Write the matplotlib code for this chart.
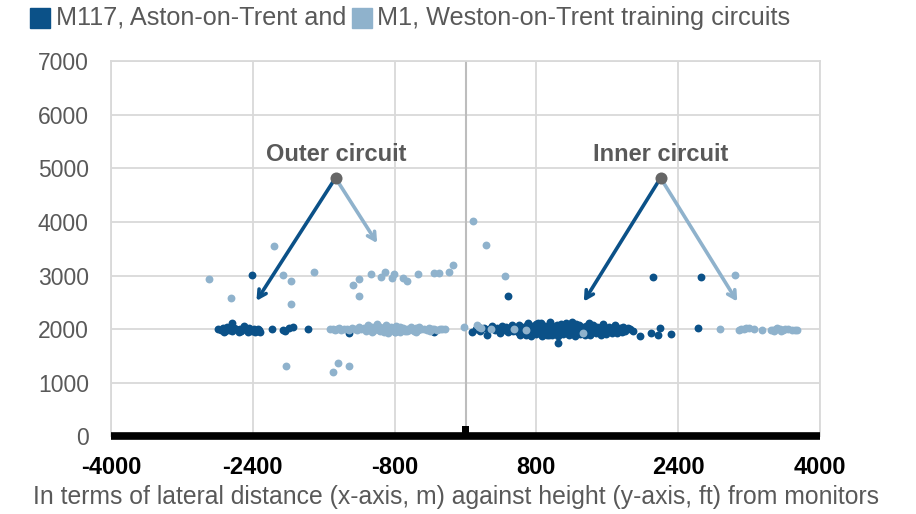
import matplotlib.pyplot as plt
from matplotlib.patches import Rectangle

plt.rcParams['font.family'] = ['Liberation Sans', 'DejaVu Sans']

DARK = '#0b5188'
LIGHT = '#8fb2cc'
GREY = '#595959'

# M117, Aston-on-Trent (lateral distance m, height ft)
m117_x = [-2790, -2760, -2735, -2710, -2690, -2670, -2650, -2630, -2610, -2590,
          -2570, -2550, -2530, -2510, -2490, -2470, -2450, -2430, -2410, -2390,
          -2370, -2350, -2330, -2315, -2630, -2500, -2720, -2560, -2440, -2340,
          -2182, -2062, -2040, -1990, -1945, -1780, -2408, -1317, -358,
          76, 120, 160, 205, 240, 270, 300, 330, 360, 385, 410, 440, 460, 480,
          500, 520, 540, 555, 570, 590, 605, 620, 640, 655, 670, 690, 705, 720,
          735, 750, 765, 780, 795, 810, 825, 840, 855, 870, 885, 900, 915, 930,
          945, 960, 975, 990, 1005, 1020, 1035, 1050, 1065, 1080, 1095, 1110,
          1125, 1140, 1160, 1180, 1200, 1220, 1240, 1260, 1280, 1300, 1320,
          1340, 1360, 1380, 1400, 1420, 1440, 1460, 1480, 1500, 1520, 1540,
          1560, 1580, 1600, 1620, 1640, 1660, 1680, 1700, 1720, 1740, 1760,
          1780, 1800, 1830, 1860, 1890,
          620, 680, 740, 800, 860, 920, 980, 1040, 1100, 1170, 1230, 1290,
          1350, 1410, 1470, 1530, 1590, 1650, 1710, 1770, 700, 820, 950, 1130,
          1250, 1390, 1550, 1690,
          482, 1046, 2114, 2660, 2622, 1967, 2088, 2193, 2170, 2314]
m117_y = [2000, 1980, 2020, 1960, 2050, 1990, 2010, 1970, 2030, 2000,
          1980, 2010, 1960, 2000, 2020, 1980, 1950, 1990, 1960, 2010,
          1940, 1970, 1990, 1950, 2110, 2060, 1950, 1950, 2030, 2000,
          2000, 1990, 1970, 2030, 2050, 2000, 3010, 1930, 1940,
          1940, 2010, 1960, 2030, 1900, 2000, 2060, 1980, 2020, 1930,
          2060, 1990, 2040, 1950, 2010, 2080, 1960, 2030, 2000, 1940,
          2070, 1990, 2050, 1920, 2010, 2080, 1970, 2040, 1910, 2060,
          1990, 2020, 2090, 1950, 2030, 1980, 2110, 1940, 2010, 2060,
          1970, 2020, 1900, 2080, 1990, 2050, 1930, 2020, 2070, 1960,
          2010, 2100, 1950, 2040, 1990, 1920, 2060, 2010, 2130, 1970,
          2030, 1950, 2080, 1990, 2040, 1920, 2060, 2000, 2020, 1960,
          2070, 1990, 2040, 1940, 2020, 2060, 1980, 2030, 1950, 2050,
          2000, 1970, 2040, 2010, 1960, 2030, 1990, 2050, 1970, 2020,
          2000, 1960,
          1890, 1900, 1880, 1910, 1870, 1900, 1890, 1880, 1910, 1900, 1880,
          1910, 1900, 1890, 1920, 1900, 1910, 1920, 1930, 1940, 2110, 2120,
          2130, 2120, 2100, 2110, 2090, 2080,
          2610, 1740, 2980, 2980, 2030, 1875, 1937, 2018, 1894, 1907]

# M1, Weston-on-Trent
m1_x = [-2897, -2641, -2164, -2058, -1964, -1964, -1712, -2020, -1440, -1495,
        -1310, -1268, -1200, -1200, -1064, -959, -903, -835, -809, -703, -658,
        -534, -358, -301, -188, -143,
        -1524, -1500, -1475, -1450, -1425, -1400, -1370, -1340, -1310, -1280,
        -1250, -1225, -1200, -1175, -1150, -1125, -1100, -1080, -1060, -1040,
        -1020, -1000, -980, -960, -940, -920, -900, -880, -860, -840, -820,
        -800, -780, -760, -740, -720, -700, -680, -660, -640, -620, -600,
        -580, -560, -540, -520, -500, -470, -440, -410, -380, -350, -320,
        -290, -260, -235, -1060, -960, -870, -800, -740, -660, -560, -400,
        -20, 130, 150, 175, 290, 545, 677, 1328,
        87, 226, 451, 3036,
        2870, 3085, 3110, 3140, 3170, 3200, 3250, 3349, 3442, 3470, 3500,
        3520, 3550, 3580, 3610, 3640, 3680, 3720, 3744, 3480, 3560]
m1_y = [2930, 2590, 3560, 3010, 2890, 2470, 3070, 1315, 1370, 1200,
        1315, 2830, 2930, 2610, 3030, 2980, 3060, 2960, 3030, 2960, 2890,
        3030, 3040, 3040, 3060, 3190,
        2000, 2010, 1990, 2000, 2020, 1990, 2010, 2000, 1980, 2020,
        2010, 1990, 2040, 2000, 2030, 1970, 2080, 1990, 2050, 1960,
        2030, 2090, 1980, 2040, 2000, 1950, 2070, 2010, 1960, 2050,
        2020, 1940, 2060, 2000, 2040, 1980, 2030, 1960, 2010, 1990,
        2050, 2000, 1970, 2020, 1990, 2040, 2000, 2010, 1980, 2020,
        2000, 2010, 1990, 2000, 2010, 2000, 1950, 1960, 1930, 1950,
        1940, 1960, 1950, 1960,
        2040, 2070, 2050, 2030, 2010, 2010, 1980, 1925,
        4010, 3570, 3000, 3010,
        2000, 1990, 2000, 2010, 2020, 2030, 2000, 1990, 1990, 1980, 2010,
        2020, 2000, 1980, 2010, 2000, 1990, 1990, 1990, 1960, 1970]

ticks_x = [-4000, -2400, -800, 800, 2400, 4000]
ticks_y = [0, 1000, 2000, 3000, 4000, 5000, 6000, 7000]

# monitor position on the ground line
monitor_x = [0]
monitor_h = [190]

# circuit labels: name, label position, arrow origin, M117 tip, M1 tip
circuits = ['Outer circuit', 'Inner circuit']
label_xy = [(-1460, 5250), (2200, 5250)]
origin_xy = [(-1467, 4820), (2201, 4820)]
m117_tip = [(-2359, 2528), (1335, 2515)]
m1_tip = [(-997, 3604), (3066, 2515)]

fig = plt.figure(figsize=(9.16, 5.14), dpi=100)
ax = fig.add_axes([0.1212, 0.1508, 0.7740, 0.7306])

ax.scatter(m117_x, m117_y, s=32, color=DARK, linewidths=0, zorder=3)
ax.scatter(m1_x, m1_y, s=32, color=LIGHT, linewidths=0, zorder=4)

ax.set_xlim(-4000, 4000)
ax.set_ylim(0, 7000)
ax.set_xticks(ticks_x)
ax.set_yticks(ticks_y)
ax.set_xticklabels([str(t) for t in ticks_x], fontweight='bold', fontsize=17, color='black')
ax.set_yticklabels([str(t) for t in ticks_y], fontsize=16.5, color=GREY)
ax.tick_params(length=0)
ax.tick_params(axis='x', pad=14)
ax.tick_params(axis='y', pad=16)
ax.grid(True, color='#d9d9d9', linewidth=1.3, zorder=0)
ax.set_axisbelow(True)
for side in ['top', 'right', 'left']:
    ax.spines[side].set_color('#d9d9d9')
    ax.spines[side].set_linewidth(1.3)
ax.spines['bottom'].set_visible(False)

ax.axvline(0, color='#bdbdbd', linewidth=1.5, zorder=1)
ax.axhline(0, color='black', linewidth=5.5, zorder=5, clip_on=False,
           solid_capstyle='butt')
ax.bar(monitor_x, monitor_h, width=85, color='black', zorder=5)

for name, lab, org, t1, t2 in zip(circuits, label_xy, origin_xy, m117_tip, m1_tip):
    ax.text(lab[0], lab[1], name, ha='center', va='center', fontsize=17,
            fontweight='bold', color=GREY, zorder=6)
    for tip, col in [(t1, DARK), (t2, LIGHT)]:
        ax.annotate('', xy=tip, xytext=org, zorder=6,
                    arrowprops=dict(arrowstyle='->,head_length=0.55,head_width=0.3',
                                    color=col, lw=2.6, shrinkA=0, shrinkB=0))
    ax.scatter([org[0]], [org[1]], s=75, color='#666666', zorder=7, linewidths=0)

ax.set_xlabel('In terms of lateral distance (x-axis, m) against height (y-axis, ft) from monitors',
              fontsize=17.8, color=GREY, va='center')
ax.xaxis.set_label_coords(0.486, -0.16)

# legend row along the top
fig.patches.append(Rectangle((30 / 916, 1 - 28 / 514), 20 / 916, 20 / 514,
                             transform=fig.transFigure, color=DARK))
fig.text(56 / 916, 1 - 18 / 514, 'M117, Aston-on-Trent and', fontsize=18.2,
         color=GREY, va='center', ha='left')
fig.patches.append(Rectangle((352 / 916, 1 - 28 / 514), 20 / 916, 20 / 514,
                             transform=fig.transFigure, color=LIGHT))
fig.text(377 / 916, 1 - 18 / 514, 'M1, Weston-on-Trent training circuits', fontsize=18.2,
         color=GREY, va='center', ha='left')

fig.savefig('out.png', dpi=100)
